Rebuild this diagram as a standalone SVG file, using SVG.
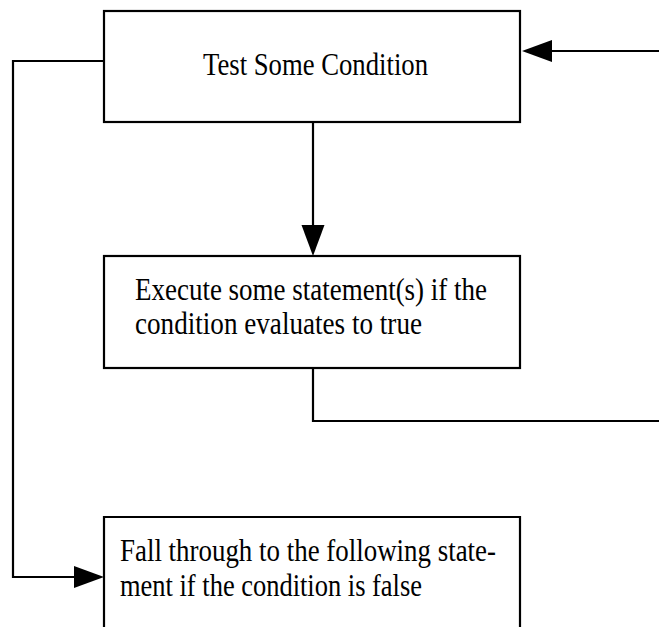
<svg xmlns="http://www.w3.org/2000/svg" width="659" height="627" viewBox="0 0 659 627">
<style>
.box{fill:#fff;stroke:#000;stroke-width:2.2}
.ln{fill:none;stroke:#000;stroke-width:2.2}
.ah{fill:#000;stroke:none}
text{font-family:"Liberation Serif",serif;font-size:32px;fill:#000}
</style>
<rect width="659" height="627" fill="#fff"/>
<g id="connectors">
<path class="ln" d="M104,61 H13 V577 H76"/>
<polygon class="ah" points="74,566 104,577 74,588"/>
<path class="ln" d="M659,51 H550"/>
<polygon class="ah" points="552,40 522,51 552,62"/>
<path class="ln" d="M313,122 V228"/>
<polygon class="ah" points="301.5,225 313,256 324.5,225"/>
<path class="ln" d="M313,368 V421 H659"/>
</g>
<g id="test">
<rect class="box" x="104" y="11" width="416" height="111"/>
<text x="203" y="75" textLength="225" lengthAdjust="spacingAndGlyphs">Test Some Condition</text>
</g>
<g id="execute">
<rect class="box" x="104" y="256" width="416" height="112"/>
<text x="135" y="300" textLength="352" lengthAdjust="spacingAndGlyphs">Execute some statement(s) if the</text>
<text x="135" y="334" textLength="287" lengthAdjust="spacingAndGlyphs">condition evaluates to true</text>
</g>
<g id="fallthrough">
<path class="box" d="M104,630 V517 H520 V630"/>
<text x="120" y="561" textLength="376" lengthAdjust="spacingAndGlyphs">Fall through to the following state-</text>
<text x="120" y="596" textLength="302" lengthAdjust="spacingAndGlyphs">ment if the condition is false</text>
</g>
</svg>
